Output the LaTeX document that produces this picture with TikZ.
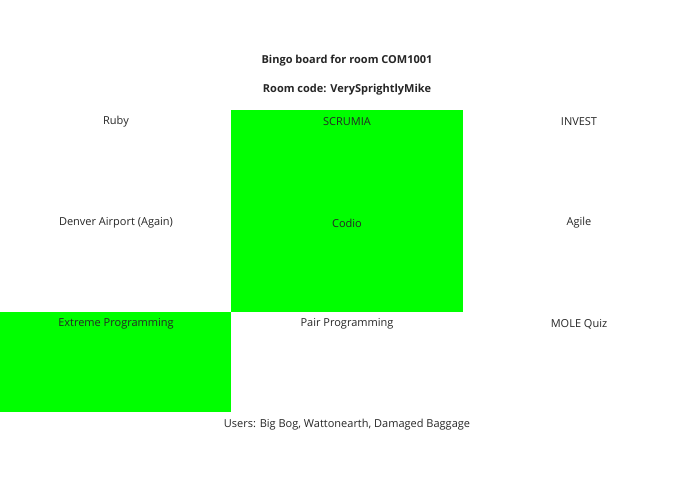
\documentclass[tikz,border=0pt]{standalone}
\usepackage{fontspec}
\setmainfont{Open Sans}
\begin{document}
\begin{tikzpicture}[x=1pt,y=-1pt,
  cell/.style={fill=green!100!black, draw=none},
  lbl/.style={font=\fontsize{11}{13}\selectfont, text=black!85, inner sep=0pt, anchor=center},
  ttl/.style={font=\fontsize{11}{13}\selectfont\bfseries, text=black!85, inner sep=0pt}]
\useasboundingbox (0,0) rectangle (695,494);
\definecolor{bg}{RGB}{0,255,0}
\fill[bg] (231,110) rectangle (463,312);
\fill[bg] (0,312) rectangle (231,412);
\node[ttl] (t1) at (347,61) {Bingo board for room COM1001};
\node[ttl] (t2) at (347,90) {Room code: VerySprightlyMike};
\node[lbl] (a1) at (116,122) {Ruby};
\node[lbl] (a2) at (347,122) {SCRUMIA};
\node[lbl] (a3) at (579,122) {INVEST};
\node[lbl] (b1) at (116,223) {Denver Airport (Again)};
\node[lbl] (b2) at (347,223) {Codio};
\node[lbl] (b3) at (579,223) {Agile};
\node[lbl] (c1) at (116,324) {Extreme Programming};
\node[lbl] (c2) at (347,324) {Pair Programming};
\node[lbl] (c3) at (579,324) {MOLE Quiz};
\node[lbl] (u) at (347,425) {Users: Big Bog, Wattonearth, Damaged Baggage};
\end{tikzpicture}
\end{document}
